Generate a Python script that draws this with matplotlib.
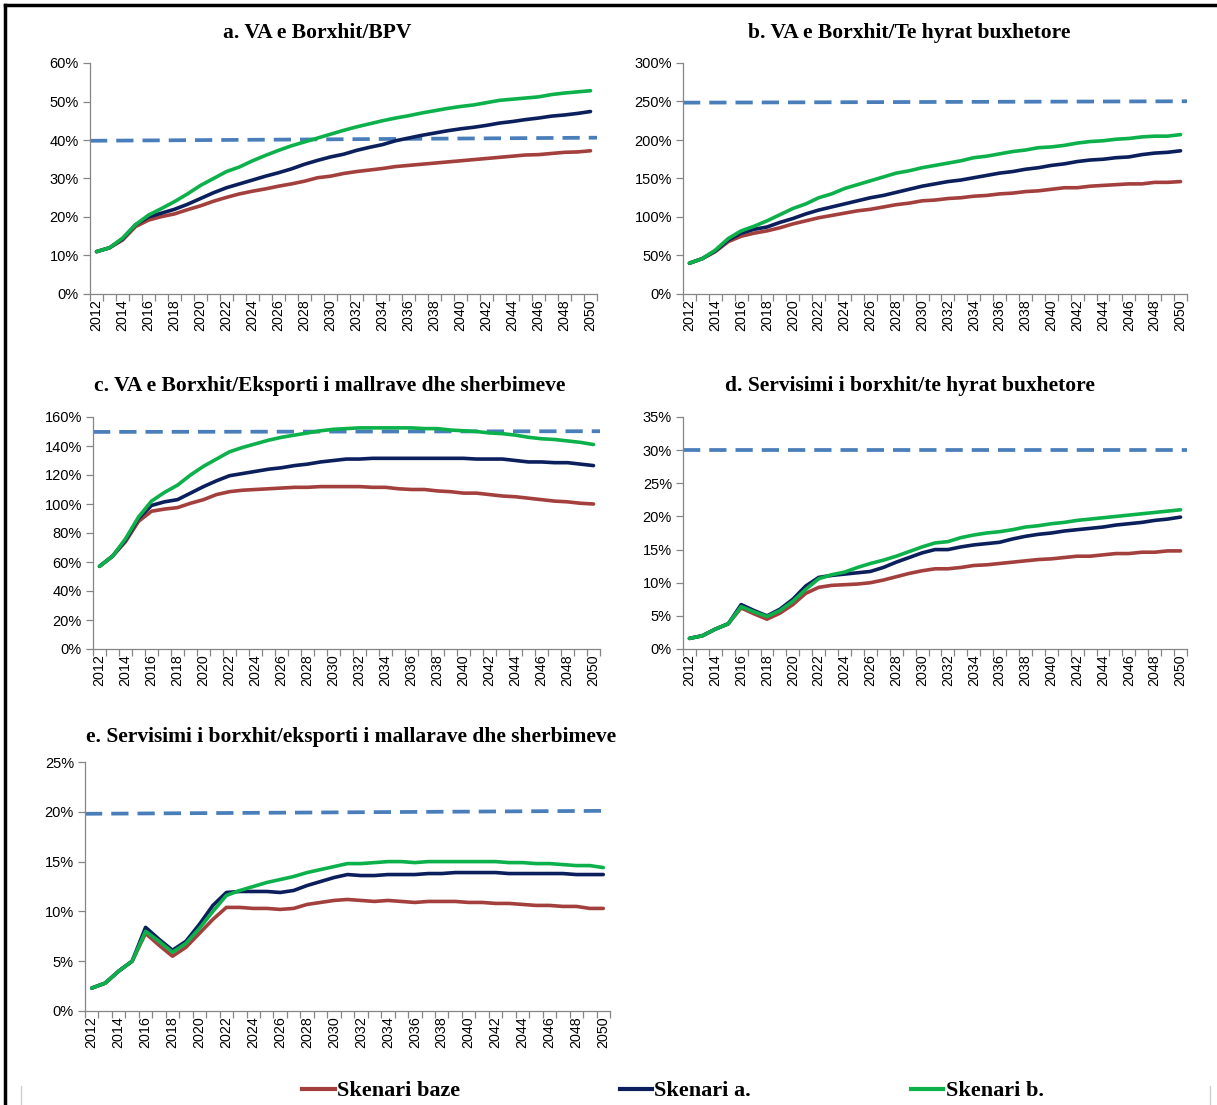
import matplotlib
matplotlib.use('Agg')
import matplotlib.pyplot as plt
from matplotlib.lines import Line2D
from matplotlib.ticker import FuncFormatter, MultipleLocator

years = list(range(2012, 2051))

# a. VA e Borxhit/BPV
a_baze = [11, 12, 14, 17.5, 19.2, 20.1, 20.8, 21.9, 22.9, 24.1, 25.1, 26, 26.7, 27.3, 28, 28.6, 29.3, 30.2, 30.6, 31.3,
          31.8, 32.2, 32.6, 33.1, 33.4, 33.7, 34, 34.3, 34.6, 34.9, 35.2, 35.5, 35.8, 36.1, 36.2, 36.5, 36.8, 36.9, 37.2]
a_sk_a = [11, 12, 14.3, 18, 20, 21, 22, 23.3, 24.8, 26.3, 27.6, 28.6, 29.6, 30.6, 31.5, 32.5, 33.7, 34.7, 35.6, 36.3,
          37.3, 38.1, 38.8, 39.8, 40.5, 41.2, 41.8, 42.4, 42.9, 43.3, 43.8, 44.4, 44.8, 45.3, 45.7, 46.2, 46.5, 46.9, 47.4]
a_sk_b = [11, 12, 14.5, 18, 20.5, 22.2, 24, 26, 28.2, 30, 31.8, 33, 34.6, 36, 37.3, 38.5, 39.5, 40.5, 41.5, 42.5,
          43.4, 44.2, 45, 45.7, 46.3, 47, 47.6, 48.2, 48.7, 49.1, 49.7, 50.3, 50.6, 50.9, 51.2, 51.8, 52.2, 52.5, 52.8]

# b. VA e Borxhit/Te hyrat buxhetore
b_baze = [40, 46, 55, 68, 75, 79, 82, 86, 91, 95, 99, 102, 105, 108, 110, 113, 116, 118, 121, 122,
          124, 125, 127, 128, 130, 131, 133, 134, 136, 138, 138, 140, 141, 142, 143, 143, 145, 145, 146]
b_sk_a = [40, 46, 56, 70, 79, 84, 87, 93, 98, 104, 109, 113, 117, 121, 125, 128, 132, 136, 140, 143,
          146, 148, 151, 154, 157, 159, 162, 164, 167, 169, 172, 174, 175, 177, 178, 181, 183, 184, 186]
b_sk_b = [40, 46, 57, 72, 82, 88, 95, 103, 111, 117, 125, 130, 137, 142, 147, 152, 157, 160, 164, 167,
          170, 173, 177, 179, 182, 185, 187, 190, 191, 193, 196, 198, 199, 201, 202, 204, 205, 205, 207]

# c. VA e Borxhit/Eksporti i mallrave dhe sherbimeve
c_baze = [57, 64, 74, 88, 95, 96.5, 97.5, 100.5, 103, 106.5, 108.5, 109.5, 110, 110.5, 111, 111.5, 111.5, 112, 112, 112,
          112, 111.5, 111.5, 110.5, 110, 110, 109, 108.5, 107.5, 107.5, 106.5, 105.5, 105, 104, 103, 102, 101.5, 100.5, 100]
c_sk_a = [57, 64, 75, 90, 99, 101.5, 103, 107.5, 112, 116, 119.5, 121, 122.5, 124, 125, 126.5, 127.5, 129, 130, 131,
          131, 131.5, 131.5, 131.5, 131.5, 131.5, 131.5, 131.5, 131.5, 131, 131, 131, 130, 129, 129, 128.5, 128.5, 127.5, 126.5]
c_sk_b = [57, 64, 76, 91, 102, 108, 113, 120, 126, 131, 136, 139, 141.5, 144, 146, 147.5, 149, 150.5, 151.5, 152,
          152.5, 152.5, 152.5, 152.5, 152.5, 152, 152, 151, 150.5, 150, 149, 148.5, 147.5, 146, 145, 144.5, 143.5, 142.5, 141]

# d. Servisimi i borxhit/te hyrat buxhetore
d_baze = [1.6, 2.0, 3.0, 3.8, 6.2, 5.3, 4.5, 5.4, 6.7, 8.4, 9.3, 9.6, 9.7, 9.8, 10.0, 10.4, 10.9, 11.4, 11.8, 12.1,
          12.1, 12.3, 12.6, 12.7, 12.9, 13.1, 13.3, 13.5, 13.6, 13.8, 14.0, 14.0, 14.2, 14.4, 14.4, 14.6, 14.6, 14.8, 14.8]
d_sk_a = [1.6, 2.0, 3.0, 3.8, 6.7, 5.8, 5.0, 6.0, 7.5, 9.5, 10.8, 11.1, 11.3, 11.5, 11.7, 12.3, 13.1, 13.8, 14.5, 15.0,
          15.0, 15.4, 15.7, 15.9, 16.1, 16.6, 17.0, 17.3, 17.5, 17.8, 18.0, 18.2, 18.4, 18.7, 18.9, 19.1, 19.4, 19.6, 19.9]
d_sk_b = [1.6, 2.0, 3.0, 3.8, 6.4, 5.6, 4.9, 5.8, 7.2, 9.0, 10.6, 11.2, 11.6, 12.3, 12.9, 13.4, 14.0, 14.7, 15.4, 16.0,
          16.2, 16.8, 17.2, 17.5, 17.7, 18.0, 18.4, 18.6, 18.9, 19.1, 19.4, 19.6, 19.8, 20.0, 20.2, 20.4, 20.6, 20.8, 21.0]

# e. Servisimi i borxhit/eksporti i mallarave dhe sherbimeve
e_baze = [2.3, 2.8, 4.0, 5.0, 7.8, 6.6, 5.5, 6.4, 7.8, 9.2, 10.4, 10.4, 10.3, 10.3, 10.2, 10.3, 10.7, 10.9, 11.1, 11.2,
          11.1, 11.0, 11.1, 11.0, 10.9, 11.0, 11.0, 11.0, 10.9, 10.9, 10.8, 10.8, 10.7, 10.6, 10.6, 10.5, 10.5, 10.3, 10.3]
e_sk_a = [2.3, 2.8, 4.0, 5.0, 8.4, 7.2, 6.1, 7.0, 8.7, 10.6, 11.9, 12.0, 12.0, 12.0, 11.9, 12.1, 12.6, 13.0, 13.4, 13.7,
          13.6, 13.6, 13.7, 13.7, 13.7, 13.8, 13.8, 13.9, 13.9, 13.9, 13.9, 13.8, 13.8, 13.8, 13.8, 13.8, 13.7, 13.7, 13.7]
e_sk_b = [2.3, 2.8, 4.0, 5.0, 8.0, 7.0, 5.9, 6.8, 8.3, 10.0, 11.6, 12.1, 12.5, 12.9, 13.2, 13.5, 13.9, 14.2, 14.5, 14.8,
          14.8, 14.9, 15.0, 15.0, 14.9, 15.0, 15.0, 15.0, 15.0, 15.0, 15.0, 14.9, 14.9, 14.8, 14.8, 14.7, 14.6, 14.6, 14.4]

# threshold lines (start, end)
thresholds = [(39.8, 40.6), (248.5, 250.3), (149.7, 150.2), (30, 30), (19.8, 20.1)]

titles = ['a. VA e Borxhit/BPV',
          'b. VA e Borxhit/Te hyrat buxhetore',
          'c. VA e Borxhit/Eksporti i mallrave dhe sherbimeve',
          'd. Servisimi i borxhit/te hyrat buxhetore',
          'e. Servisimi i borxhit/eksporti i mallarave dhe sherbimeve']
y_max = [60, 300, 160, 35, 25]
y_step = [10, 50, 20, 5, 5]
series = [(a_baze, a_sk_a, a_sk_b), (b_baze, b_sk_a, b_sk_b), (c_baze, c_sk_a, c_sk_b),
          (d_baze, d_sk_a, d_sk_b), (e_baze, e_sk_a, e_sk_b)]
legend_labels = ['Skenari baze', 'Skenari a.', 'Skenari b.']

colors = ['#A3403D', '#0B1F5C', '#0DB14B']
dash_color = '#4A7EBB'
axis_color = '#868686'

W, H = 1217, 1105
fig = plt.figure(figsize=(W / 100, H / 100), dpi=100)

# axes boxes in pixels: left, right, top, bottom
boxes = [(90, 597, 63, 294), (683, 1187, 63, 294), (93, 600, 417, 649), (683, 1187, 417, 649), (85, 610, 762, 1011)]
title_pos = [(317, 33), (909, 33), (330, 386), (910, 386), (351, 737)]

for i in range(5):
    l, r, t, b = boxes[i]
    ax = fig.add_axes([l / W, 1 - b / H, (r - l) / W, (b - t) / H])
    for s, c in zip(series[i], colors):
        ax.plot(years, s, color=c, lw=2.6, solid_capstyle='round', zorder=3)
    x0, x1 = years[0] - 0.5, years[-1] + 0.5
    ax.plot([x0, x1], thresholds[i], color=dash_color, lw=2.7, dashes=(4.6, 2.4), zorder=2)
    ax.set_xlim(x0, x1)
    ax.set_ylim(0, y_max[i])
    ax.yaxis.set_major_locator(MultipleLocator(y_step[i]))
    ax.yaxis.set_major_formatter(FuncFormatter(lambda v, p: '%d%%' % round(v)))
    ax.set_xticks(years[::2])
    ax.set_xticklabels([str(y) for y in years[::2]], rotation=90)
    ax.set_xticks([y - 0.5 for y in years] + [x1], minor=True)
    ax.tick_params(axis='x', which='major', length=0, pad=4, labelsize=10.3)
    ax.tick_params(axis='x', which='minor', length=5, color=axis_color, width=0.9)
    ax.tick_params(axis='y', length=5, color=axis_color, width=0.9, labelsize=10.5, pad=3)
    for lab in ax.get_xticklabels() + ax.get_yticklabels():
        lab.set_fontfamily('Liberation Sans')
    for sp in ['top', 'right']:
        ax.spines[sp].set_visible(False)
    for sp in ['left', 'bottom']:
        ax.spines[sp].set_color(axis_color)
        ax.spines[sp].set_linewidth(0.9)
    tx, ty = title_pos[i]
    fig.text(tx / W, 1 - ty / H, titles[i], ha='center', va='center', fontsize=15.5,
             fontweight='bold', family='Liberation Serif')

handles = [Line2D([], [], color=c, lw=3) for c in colors]
fig.legend(handles, legend_labels, loc='center', bbox_to_anchor=(673 / W, 1 - 1091 / H), ncol=3,
           frameon=False, handlelength=1.45, handletextpad=0.1, columnspacing=7.2,
           prop={'family': 'Liberation Serif', 'weight': 'bold', 'size': 16})

# outer frame (top and left) and bottom border pieces
fig.add_artist(Line2D([5 / W, 1], [1 - 5 / H, 1 - 5 / H], color='black', lw=2.5))
fig.add_artist(Line2D([5 / W, 5 / W], [0, 1 - 5 / H], color='black', lw=2.5))
fig.add_artist(Line2D([21 / W, 21 / W], [0, 1 - 1086 / H], color='#D0D0D0', lw=1))
fig.add_artist(Line2D([1210 / W, 1210 / W], [0, 1 - 1086 / H], color='#D0D0D0', lw=1))

fig.savefig('out.png', dpi=100)
